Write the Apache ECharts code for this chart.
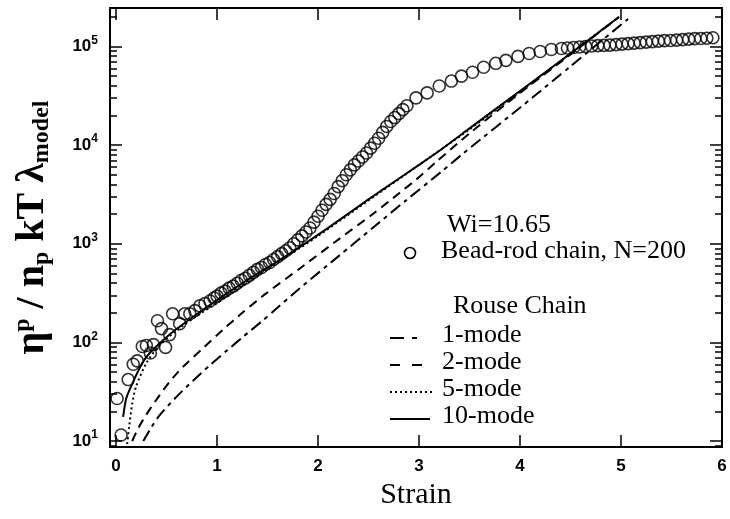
<!DOCTYPE html>
<html>
<head>
<meta charset="utf-8">
<script src="https://cdn.jsdelivr.net/npm/echarts@6/dist/echarts.min.js"></script>
<style>
html,body{margin:0;padding:0;background:#fff;}
#chart{width:730px;height:519px;}
</style>
</head>
<body>
<div id="chart"></div>
<script>
// ---- data ----
const beadStrain = [0.01,0.05,0.12,0.17,0.21,0.26,0.30,0.34,0.37,0.41,0.45,0.49,0.53,0.56,0.63,0.68,0.73,0.78,0.83,0.88,0.93,0.97,
  1.00,1.04,1.08,1.12,1.16,1.20,1.24,1.28,1.32,1.36,1.40,1.44,1.48,1.52,1.56,1.60,1.64,1.68,1.72,1.76,1.80,1.84,1.88,1.92,1.96,2.00,
  2.04,2.08,2.12,2.16,2.20,2.24,2.28,2.32,2.36,2.40,2.44,2.48,2.52,2.56,2.60,2.64,2.68,2.72,2.76,2.80,2.84,2.88,
  2.97,3.08,3.20,3.32,3.42,3.53,3.64,3.76,3.86,3.98,4.09,4.20,4.31,4.41,
  4.47,4.53,4.59,4.65,4.71,4.77,4.83,4.89,4.95,5.01,5.07,5.13,5.19,5.25,5.31,5.37,5.43,5.49,5.55,5.61,5.67,5.73,5.79,5.85,5.91];
const beadValue = [27,11.5,42,60,65,91,93,78,95,166,138,89,120,195,155,195,195,210,235,248,263,282,
  295,316,331,355,372,398,427,447,479,513,550,575,617,646,692,741,794,851,912,1000,1096,1202,1318,1445,1660,1905,
  2188,2512,2818,3236,3802,4365,5012,5623,6310,6918,7586,8318,9333,10470,11750,13490,15490,17380,19050,20890,22910,25120,
  30200,33880,39810,44670,50120,54950,61660,67610,72440,79430,85110,89130,93330,95500,
  96600,97700,98900,100000,101200,102300,102800,103500,104700,105900,107200,108400,109600,110900,112200,113500,114800,115200,116100,117500,118900,120200,120800,121600,123000];

const mode1Strain = [0.27,0.35,0.43,0.60,0.76,0.93,1.10,1.25,1.45,1.55,1.82,2.21,2.54,2.87,3.22,3.43,4.12,4.50,5.07];
const mode1Value  = [10,13.8,18.2,28.2,40.7,58.9,83.2,112.2,166,204,354.8,758.6,1445,2754,5370,8128,30200,63100,190500];

const mode2Strain = [0.16,0.20,0.27,0.40,0.53,0.66,0.86,1.06,1.25,1.49,1.82,2.21,2.54,2.80,2.97,3.17,3.50,4.00,4.50,4.98];
const mode2Value  = [10,12.3,16.6,26.3,39.8,56.2,87.1,134.9,199.5,316.2,562.3,1122,1995,3236,4467,6761,13180,33880,83180,199500];

const mode5Strain = [0.11,0.13,0.16,0.20,0.30,0.43,0.60,0.80,1.00,1.25,1.50,1.72,2.00,2.50,3.00,3.50,4.00,4.50,4.98];
const mode5Value  = [9.3,14.1,24,36.3,61.7,93.3,131.8,186.2,251.2,371.5,549.5,776.2,1202,2754,6310,14450,34670,85110,199500];

const mode10Strain = [0.07,0.10,0.16,0.26,0.34,0.53,0.75,1.00,1.25,1.50,1.72,2.14,2.50,2.64,3.00,3.17,3.50,4.00,4.50,4.98];
const mode10Value  = [17.6,26.9,38,61.7,79.4,120.2,177.8,269.2,398.1,575.4,794.3,1549,2818,3548,6310,8318,14790,35480,85110,199500];

const xTicks = [0,1,2,3,4,5,6];
const yMajor = [10,100,1000,10000,100000];
const yExponents = ['1','2','3','4','5'];
const yMinor = [9,20,30,40,50,60,70,80,90,200,300,400,500,600,700,800,900,2000,3000,4000,5000,6000,7000,8000,9000,
  20000,30000,40000,50000,60000,70000,80000,90000,200000];

const legendTexts = ['Wi=10.65','Bead-rod chain, N=200','Rouse Chain','1-mode','2-mode','5-mode','10-mode'];

// ---- chart ----
const pairs = (xs, ys) => xs.map((x, i) => [x, ys[i]]);
const chart = echarts.init(document.getElementById('chart'), null, {renderer: 'canvas'});
const YMIN = 8.7, YMAX = 246000, XMIN = -0.06, XMAX = 6;
const axisCol = '#000';
const serif = '"Liberation Serif", "Times New Roman", serif';
const sans = '"Liberation Sans", Arial, sans-serif';

function xAx(pos, showLabel) {
  return {
    type: 'value', position: pos, min: XMIN, max: XMAX,
    axisLine: {show: true, onZero: false, lineStyle: {color: axisCol, width: 2}},
    axisTick: {show: true, inside: true, length: 12, customValues: xTicks, lineStyle: {color: axisCol, width: 1.5}},
    axisLabel: {show: showLabel, customValues: xTicks, margin: 11, color: '#000',
      fontFamily: sans, fontWeight: 'bold', fontSize: 17},
    splitLine: {show: false}
  };
}
function yAx(pos, major, labels) {
  return {
    type: 'log', logBase: 10, position: pos, min: YMIN, max: YMAX,
    axisLine: {show: major, onZero: false, lineStyle: {color: axisCol, width: 2}},
    axisTick: {show: true, inside: true, length: major ? 12 : 7, customValues: major ? yMajor : yMinor,
      lineStyle: {color: axisCol, width: 1.5}},
    axisLabel: {show: labels, customValues: yMajor, margin: 12,
      formatter: function (v) {
        const i = yMajor.indexOf(Math.round(v));
        return '{b|10}{s|' + (i >= 0 ? yExponents[i] : '') + '}';
      },
      rich: {
        b: {fontFamily: sans, fontWeight: 'bold', fontSize: 17, color: '#000'},
        s: {fontFamily: sans, fontWeight: 'bold', fontSize: 12, color: '#000', padding: [0, 0, 12, 0]}
      }},
    splitLine: {show: false}
  };
}

const y0 = yAx('left', true, true);
y0.name = '{m|η}{sup|p}{m| / n}{sub|p}{m| kT λ}{sub|model}';
y0.nameLocation = 'middle';
y0.nameRotate = 90;
y0.nameGap = 53;
y0.nameTextStyle = {
  rich: {
    m: {fontFamily: serif, fontWeight: 'bold', fontSize: 40, color: '#000', lineHeight: 48},
    sup: {fontFamily: serif, fontWeight: 'bold', fontSize: 24, color: '#000', padding: [0, 0, 21, 0]},
    sub: {fontFamily: serif, fontWeight: 'bold', fontSize: 24, color: '#000', padding: [17, 0, 0, 0]}
  }
};
const x0 = xAx('bottom', true);
x0.name = 'Strain';
x0.nameLocation = 'middle';
x0.nameGap = 33;
x0.nameTextStyle = {fontFamily: serif, fontSize: 30, color: '#000'};

const lineBase = (name, xs, ys, type) => ({
  name: name, type: 'line', data: pairs(xs, ys), showSymbol: false, symbol: 'none',
  smooth: 0.25, xAxisIndex: 0, yAxisIndex: 0, z: 3,
  lineStyle: {color: '#000', width: 2, type: type}
});

const option = {
  animation: false,
  backgroundColor: '#fff',
  grid: {left: 110, right: 8, top: 8, bottom: 72, containLabel: false},
  xAxis: [x0, xAx('top', false)],
  yAxis: [y0, yAx('left', false, false), yAx('right', true, false), yAx('right', false, false)],
  series: [
    {
      name: 'Bead-rod chain, N=200', type: 'scatter', data: pairs(beadStrain, beadValue),
      symbol: 'circle', symbolSize: 12, z: 4,
      itemStyle: {color: 'rgba(0,0,0,0)', borderColor: '#000', borderWidth: 1.6}
    },
    lineBase('1-mode', mode1Strain, mode1Value, [12, 5, 4, 5]),
    lineBase('2-mode', mode2Strain, mode2Value, [9, 6]),
    lineBase('5-mode', mode5Strain, mode5Value, [2, 3]),
    lineBase('10-mode', mode10Strain, mode10Value, 'solid')
  ],
  graphic: [
    {type: 'text', left: 447, top: 212, style: {text: legendTexts[0], font: '26px ' + serif, fill: '#000'}},
    {type: 'circle', shape: {cx: 410, cy: 253, r: 5.5}, style: {fill: 'none', stroke: '#000', lineWidth: 1.6}},
    {type: 'text', left: 441, top: 238, style: {text: legendTexts[1], font: '26px ' + serif, fill: '#000'}},
    {type: 'text', left: 453, top: 293, style: {text: legendTexts[2], font: '26px ' + serif, fill: '#000'}},
    {type: 'line', shape: {x1: 390, y1: 338, x2: 425, y2: 338}, style: {stroke: '#000', lineWidth: 2, lineDash: [14, 8, 5, 8]}},
    {type: 'text', left: 442, top: 322, style: {text: legendTexts[3], font: '26px ' + serif, fill: '#000'}},
    {type: 'line', shape: {x1: 390, y1: 365, x2: 424, y2: 365}, style: {stroke: '#000', lineWidth: 2, lineDash: [10, 12]}},
    {type: 'text', left: 442, top: 349, style: {text: legendTexts[4], font: '26px ' + serif, fill: '#000'}},
    {type: 'line', shape: {x1: 390, y1: 392, x2: 433, y2: 392}, style: {stroke: '#000', lineWidth: 2, lineDash: [2, 3]}},
    {type: 'text', left: 442, top: 376, style: {text: legendTexts[5], font: '26px ' + serif, fill: '#000'}},
    {type: 'line', shape: {x1: 390, y1: 419, x2: 430, y2: 419}, style: {stroke: '#000', lineWidth: 2}},
    {type: 'text', left: 442, top: 403, style: {text: legendTexts[6], font: '26px ' + serif, fill: '#000'}}
  ]
};
chart.setOption(option);
</script>
</body>
</html>
